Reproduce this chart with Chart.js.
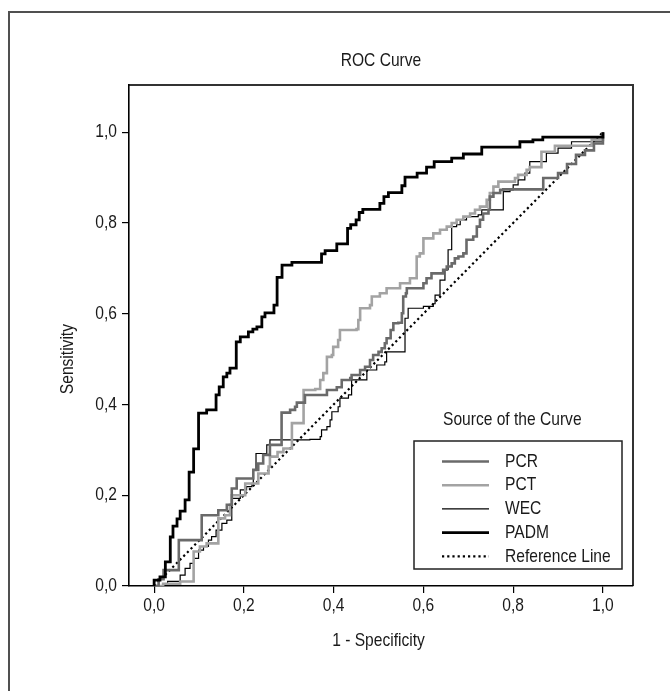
<!DOCTYPE html>
<html><head><meta charset="utf-8">
<script src="https://cdn.jsdelivr.net/npm/chart.js@4.4.1/dist/chart.umd.min.js"></script>
<style>html,body{margin:0;padding:0;background:#fff;}canvas{display:block;}</style>
</head><body>
<canvas id="c" width="670" height="691"></canvas>
<script>
// ---------- data ----------
const chartTitle = 'ROC Curve';
const xTitle = '1 - Specificity';
const yTitle = 'Sensitivity';
const legendTitle = 'Source of the Curve';
const seriesNames = ['PCR', 'PCT', 'WEC', 'PADM', 'Reference Line'];
const tickValues = [0, 0.2, 0.4, 0.6, 0.8, 1.0];

const pcrX = [0,0.01,0.021,0.055,0.106,0.143,0.162,0.173,0.184,0.221,0.232,0.243,0.258,0.284,0.303,0.314,0.318,0.336,0.385,0.407,0.418,0.437,0.44,0.459,0.47,0.481,0.488,0.5,0.507,0.514,0.518,0.527,0.533,0.544,0.552,0.555,0.561,0.563,0.6,0.607,0.618,0.644,0.652,0.663,0.67,0.678,0.689,0.696,0.711,0.719,0.726,0.733,0.745,0.748,0.756,0.771,0.778,0.867,0.9,0.92,0.94,0.96,0.98,1.0];
const pcrY = [0,0.015,0.035,0.101,0.156,0.167,0.179,0.215,0.237,0.256,0.27,0.289,0.311,0.382,0.388,0.395,0.404,0.421,0.432,0.438,0.454,0.458,0.465,0.476,0.483,0.498,0.509,0.516,0.524,0.535,0.546,0.564,0.579,0.58,0.601,0.638,0.645,0.656,0.667,0.678,0.689,0.697,0.704,0.711,0.722,0.726,0.733,0.763,0.77,0.792,0.807,0.821,0.829,0.858,0.866,0.873,0.874,0.899,0.91,0.93,0.95,0.96,0.975,1.0];

const pctX = [0,0.02,0.058,0.088,0.088,0.102,0.117,0.143,0.143,0.158,0.169,0.173,0.203,0.232,0.255,0.258,0.275,0.288,0.307,0.333,0.359,0.37,0.377,0.385,0.396,0.399,0.41,0.414,0.451,0.455,0.459,0.481,0.485,0.503,0.518,0.548,0.57,0.585,0.592,0.6,0.622,0.637,0.652,0.663,0.674,0.689,0.704,0.715,0.726,0.741,0.748,0.756,0.767,0.796,0.804,0.811,0.83,0.837,0.863,0.893,0.975,1.0];
const pctY = [0,0.005,0.01,0.021,0.076,0.087,0.094,0.101,0.149,0.156,0.179,0.2,0.226,0.248,0.263,0.285,0.295,0.303,0.359,0.432,0.434,0.454,0.469,0.505,0.509,0.527,0.542,0.564,0.566,0.586,0.612,0.619,0.638,0.645,0.656,0.667,0.678,0.726,0.733,0.766,0.777,0.785,0.792,0.8,0.807,0.814,0.821,0.829,0.836,0.851,0.866,0.88,0.891,0.891,0.899,0.906,0.917,0.923,0.957,0.97,0.983,1.0];

const wecX = [0,0.03,0.058,0.069,0.08,0.088,0.099,0.11,0.121,0.128,0.138,0.151,0.162,0.173,0.192,0.206,0.218,0.221,0.227,0.251,0.258,0.347,0.37,0.373,0.385,0.392,0.396,0.41,0.414,0.433,0.44,0.474,0.496,0.514,0.518,0.557,0.559,0.566,0.6,0.622,0.626,0.637,0.648,0.655,0.663,0.674,0.682,0.696,0.722,0.73,0.778,0.793,0.8,0.811,0.826,0.837,0.874,0.9,0.93,1.0];
const wecY = [0,0.01,0.024,0.039,0.05,0.061,0.079,0.087,0.101,0.109,0.123,0.138,0.145,0.193,0.212,0.219,0.226,0.256,0.292,0.311,0.322,0.323,0.329,0.344,0.351,0.366,0.384,0.395,0.414,0.421,0.454,0.476,0.487,0.494,0.516,0.516,0.59,0.612,0.616,0.622,0.641,0.674,0.697,0.741,0.792,0.796,0.807,0.814,0.818,0.829,0.869,0.873,0.884,0.895,0.91,0.935,0.954,0.965,0.979,1.0];

const padmX = [0,0,0.013,0.025,0.036,0.042,0.051,0.058,0.069,0.078,0.088,0.099,0.117,0.138,0.145,0.154,0.162,0.169,0.183,0.192,0.21,0.22,0.229,0.24,0.247,0.267,0.274,0.285,0.307,0.373,0.381,0.407,0.431,0.438,0.45,0.457,0.465,0.503,0.512,0.522,0.552,0.559,0.586,0.607,0.624,0.663,0.689,0.73,0.815,0.844,0.866,1.0];
const padmY = [0,0.013,0.02,0.053,0.108,0.132,0.148,0.165,0.19,0.251,0.302,0.381,0.388,0.421,0.439,0.461,0.469,0.48,0.538,0.549,0.56,0.566,0.571,0.593,0.602,0.619,0.68,0.707,0.713,0.732,0.739,0.754,0.788,0.796,0.807,0.823,0.83,0.843,0.858,0.867,0.882,0.901,0.91,0.923,0.935,0.943,0.952,0.967,0.979,0.983,0.989,1.0];

const refX = [0, 1];
const refY = [0, 1];

// ---------- styling ----------
const FONT = '"Liberation Sans", Arial, sans-serif';
const FS = 19;
const NARROW = 0.82;
const TXT = '#1a1a1a';

const pts = (xs, ys) => xs.map((x, i) => ({ x: x, y: ys[i] }));
const styles = [
  { color: '#6a6a6a', width: 2.6, dash: [] },
  { color: '#a3a3a3', width: 2.6, dash: [] },
  { color: '#000000', width: 1.2, dash: [] },
  { color: '#000000', width: 2.8, dash: [] },
  { color: '#000000', width: 2.2, dash: [2.2, 3] }
];
const seriesData = [pts(pcrX, pcrY), pts(pctX, pctY), pts(wecX, wecY), pts(padmX, padmY), pts(refX, refY)];

const datasets = seriesNames.map((name, i) => ({
  label: name,
  data: seriesData[i],
  borderColor: styles[i].color,
  borderWidth: styles[i].width,
  borderDash: styles[i].dash,
  stepped: i === 4 ? false : 'before',
  pointRadius: 0,
  fill: false,
  tension: 0,
  borderCapStyle: 'butt',
  borderJoinStyle: 'miter'
}));
const order = [1, 2, 3, 0, 4];
datasets.forEach((d, i) => { d.order = order[i]; });

const fmt = v => Number(v).toFixed(1).replace('.', ',');

function narrowText(ctx, text, x, y, align, rot) {
  ctx.save();
  ctx.translate(x, y);
  if (rot) ctx.rotate(rot);
  ctx.scale(NARROW, 1);
  ctx.textAlign = align;
  ctx.textBaseline = 'middle';
  ctx.fillStyle = TXT;
  ctx.font = FS + 'px ' + FONT;
  ctx.fillText(text, 0, 0);
  ctx.restore();
}

const deco = {
  id: 'deco',
  beforeDraw(chart) {
    const ctx = chart.ctx, a = chart.chartArea;
    ctx.save();
    ctx.fillStyle = '#fff';
    ctx.fillRect(0, 0, chart.width, chart.height);
    ctx.strokeStyle = '#505050';
    ctx.lineWidth = 2;
    ctx.strokeRect(9, 12, chart.width + 20, chart.height + 20);
    ctx.strokeStyle = '#333';
    ctx.lineWidth = 2;
    ctx.beginPath();
    ctx.moveTo(a.left, a.top);
    ctx.lineTo(a.right, a.top);
    ctx.lineTo(a.right, a.bottom);
    ctx.stroke();
    ctx.restore();
  },
  afterDraw(chart) {
    const ctx = chart.ctx, a = chart.chartArea;
    const xs = chart.scales.x, ys = chart.scales.y;
    // tick labels
    tickValues.forEach(v => {
      narrowText(ctx, fmt(v), xs.getPixelForValue(v), 606, 'center');
      narrowText(ctx, fmt(v), 117, ys.getPixelForValue(v), 'right');
    });
    // titles
    narrowText(ctx, chartTitle, (a.left + a.right) / 2, 61, 'center');
    narrowText(ctx, xTitle, (xs.getPixelForValue(0) + xs.getPixelForValue(1)) / 2, 641, 'center');
    narrowText(ctx, yTitle, 68, (ys.getPixelForValue(0) + ys.getPixelForValue(1)) / 2, 'center', -Math.PI / 2);

    // legend
    const bx = 414, by = 441, bw = 208, bh = 128;
    narrowText(ctx, legendTitle, 443, 420, 'left');
    ctx.save();
    ctx.fillStyle = '#fff';
    ctx.fillRect(bx, by, bw, bh);
    ctx.strokeStyle = '#222';
    ctx.lineWidth = 1.5;
    ctx.strokeRect(bx, by, bw, bh);
    seriesNames.forEach((name, i) => {
      const y = 461.5 + i * 23.7;
      ctx.beginPath();
      ctx.strokeStyle = styles[i].color;
      ctx.lineWidth = styles[i].width;
      ctx.setLineDash(styles[i].dash);
      ctx.moveTo(442, y);
      ctx.lineTo(489, y);
      ctx.stroke();
      ctx.setLineDash([]);
      narrowText(ctx, name, 505, y, 'left');
    });
    ctx.restore();
  }
};

new Chart(document.getElementById('c'), {
  type: 'line',
  data: { datasets: datasets },
  options: {
    responsive: false,
    animation: false,
    events: [],
    layout: { padding: { top: 85, left: 0, right: 37, bottom: 0 } },
    plugins: { legend: { display: false }, title: { display: false }, tooltip: { enabled: false } },
    scales: {
      x: {
        type: 'linear',
        min: -0.056,
        max: 1.067,
        afterBuildTicks: s => { s.ticks = tickValues.map(v => ({ value: v })); },
        afterFit: s => { s.height = 105; },
        ticks: { display: false, callback: fmt },
        grid: { display: true, drawOnChartArea: false, drawTicks: true, tickLength: 7, color: '#000', lineWidth: 1.2 },
        border: { display: true, color: '#000', width: 1.6 }
      },
      y: {
        type: 'linear',
        min: 0,
        max: 1.104,
        afterBuildTicks: s => { s.ticks = tickValues.map(v => ({ value: v })); },
        afterFit: s => { s.width = 129; },
        ticks: { display: false, callback: fmt },
        grid: { display: true, drawOnChartArea: false, drawTicks: true, tickLength: 7, color: '#000', lineWidth: 1.2 },
        border: { display: true, color: '#000', width: 1.6 }
      }
    }
  },
  plugins: [deco]
});
</script>
</body></html>
